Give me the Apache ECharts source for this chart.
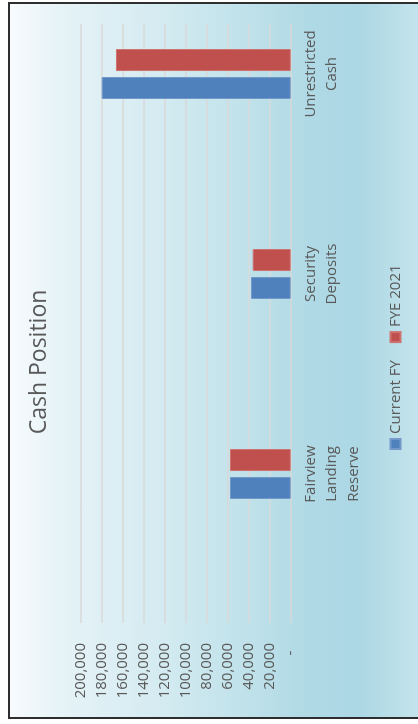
<!DOCTYPE html>
<html><head><meta charset="utf-8">
<script src="https://cdn.jsdelivr.net/npm/echarts@6/dist/echarts.min.js"></script>
<style>
html,body{margin:0;padding:0;background:#fff;width:418px;height:724px;overflow:hidden}
#rot{position:absolute;left:0;top:0;width:724px;height:418px;transform-origin:0 0;transform:translate(0,724px) rotate(-90deg);overflow:hidden;background:#fff}
#frame{position:absolute;left:5px;top:8px;width:717px;height:440px;box-sizing:border-box;border:2px solid #2e2e2e;
background:linear-gradient(to bottom,#f7fbfd 0px,#e6f3f7 50px,#d4ebf1 150px,#bfe1ea 240px,#afd9e5 300px,#acd7e4 350px,#c4e4ec 410px)}
#chart{position:absolute;left:0;top:0;width:724px;height:418px}
</style></head>
<body>
<div id="rot"><div id="frame"></div><div id="chart"></div></div>
<script>
const categories = ['Fairview\nLanding\nReserve', 'Security\nDeposits', 'Unrestricted\nCash'];
const seriesNames = ['Current FY', 'FYE 2021'];
const currentFY = [57800, 37800, 180000];
const fye2021 = [57800, 36200, 166400];
const axisMin = 0, axisMax = 200000, axisStep = 20000;
const zeroLabel = '-  ';

const chart = echarts.init(document.getElementById('chart'), null, {renderer: 'canvas'});
const gridTop = 80.7, gridBottom = 127.3;
chart.setOption({
  animation: false,
  backgroundColor: 'transparent',
  textStyle: {fontFamily: 'Open Sans'},
  title: {text: 'Cash Position', left: 'center', top: 23,
    textStyle: {fontSize: 23, fontWeight: 'normal', color: '#595959', fontFamily: 'Open Sans'}},
  legend: {data: seriesNames, left: 269, top: 383, itemWidth: 10, itemHeight: 10, itemGap: 17, icon: 'rect',
    textStyle: {fontSize: 15, color: '#595959', fontFamily: 'Open Sans'}},
  grid: [
    {left: 101, right: 24, top: gridTop, bottom: gridBottom, outerBoundsMode: 'none', containLabel: false},
    {left: 150, width: 600, top: gridTop, bottom: gridBottom, outerBoundsMode: 'none', containLabel: false}
  ],
  xAxis: [
    {gridIndex: 0, type: 'category', data: categories, show: false},
    {gridIndex: 1, type: 'category', data: categories, axisLine: {show: false}, axisTick: {show: false},
      axisLabel: {fontSize: 15, color: '#595959', lineHeight: 21.5, margin: 9, interval: 0, fontFamily: 'Open Sans'}}
  ],
  yAxis: [
    {gridIndex: 0, type: 'value', min: axisMin, max: axisMax, interval: axisStep,
      axisLine: {show: false}, axisTick: {show: false},
      splitLine: {lineStyle: {color: '#d9d9d9', width: 1.5}},
      axisLabel: {fontSize: 15, color: '#595959', margin: 20, fontFamily: 'Open Sans',
        formatter: v => v === 0 ? zeroLabel : v.toLocaleString('en-US')}},
    {gridIndex: 1, type: 'value', min: axisMin, max: axisMax, interval: axisStep, show: false}
  ],
  series: [
    {type: 'bar', name: seriesNames[0], xAxisIndex: 1, yAxisIndex: 1, data: currentFY, barWidth: 22, barGap: '27%',
      itemStyle: {color: '#4f81bd', borderColor: '#7299c9', borderWidth: 1}},
    {type: 'bar', name: seriesNames[1], xAxisIndex: 1, yAxisIndex: 1, data: fye2021, barWidth: 22, barGap: '27%',
      itemStyle: {color: '#c0504d', borderColor: '#cd7370', borderWidth: 1}}
  ]
});
</script>
</body></html>
